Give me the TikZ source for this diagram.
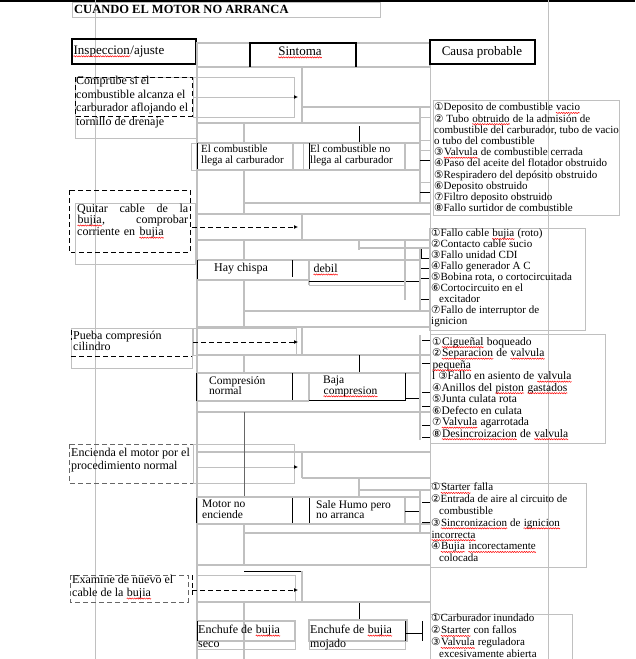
\documentclass[tikz,border=0pt]{standalone}
\usepackage{fontspec}
\setmainfont{Liberation Serif}
\newfontfamily\numfont{DejaVu Sans}
\usetikzlibrary{arrows.meta,decorations.pathmorphing}
\newcommand\err[1]{\tikz[baseline=(w.base)]{\node[inner sep=0pt,anchor=base] (w) {#1};
  \draw[red,line width=0.5pt,decorate,decoration={snake,amplitude=0.6pt,segment length=2.4pt}]
    ([yshift=-2pt]w.base west) -- ([yshift=-2pt]w.base east);}}
\newcommand\nm[1]{{\numfont\fontsize{10.5}{9}\selectfont #1}}

\begin{document}
\begin{tikzpicture}[x=1pt,y=-1pt,line cap=butt,
  linea/.style={draw=rejilla,line width=1.4pt},
  fina/.style={draw=rejilla,line width=0.8pt},
  negra/.style={draw=black,line width=0.9pt},
  paso/.style={draw=black,line width=0.9pt,dash pattern=on 5pt off 3pt},
  texto/.style={anchor=north west,inner sep=0pt,align=left,font=\fontsize{12}{13}\selectfont},
  lista/.style={anchor=north west,inner sep=0pt,align=left,font=\fontsize{11}{11.2}\selectfont},
  flecha/.style={-{Latex[length=4pt,width=4pt,color=black]}}]
  \definecolor{rejilla}{RGB}{192,192,192}

  % fondo y marco de la pagina
  \fill[white] (0,0) rectangle (635,659);
  \useasboundingbox (0,0) rectangle (635,659);
  \draw[black,line width=1.5pt] (0,1) -- (635,1);
  \draw[fina] (95,0) -- (95,659);
  \draw[fina] (430,40) -- (430,659);
  \draw[fina] (548,0) -- (548,659);
  \draw[linea] (197,43) -- (197,659);

  % titulo
  \draw[fina] (72,2) rectangle (380,17);
  \node[texto,font=\bfseries\fontsize{12.5}{13}\selectfont] (titulo) at (74,5.5) {CUANDO EL MOTOR NO ARRANCA};

  % cabeceras
  \draw[negra,line width=1.3pt] (72,39) rectangle (196,64);
  \node[texto,font=\fontsize{13}{14}\selectfont] (inspeccion) at (73,45.5) {\err{Inspeccion}/ajuste};
  \draw[linea] (197,43) rectangle (430,67);
  \draw[negra,line width=1.3pt] (250,67) -- (250,43) -- (356,43) -- (356,67);
  \node[inner sep=0pt,font=\fontsize{13}{14}\selectfont] (sintoma) at (300,52.5) {\err{Sintoma}};
  \draw[negra,line width=1.3pt] (430,40) rectangle (535,64);
  \node[inner sep=0pt,font=\fontsize{13}{14}\selectfont] (causa) at (482,52) {Causa probable};

  % paso 1: combustible
  \draw[fina] (75,77) rectangle (196,138);
  \draw[paso] (75,77) rectangle (192,116);
  \node[texto,font=\fontsize{12}{13.7}\selectfont] (comprube) at (76,76) {Comprube si el\\combustible alcanza el\\carburador aflojando el\\tornillo de drenaje};
  \draw[fina] (193,77) rectangle (294,117);
  \coordinate (s1) at (193,97);
  \coordinate (e1) at (298,97);
  \draw[fina,flecha] (s1) -- (e1);
  \draw[linea] (302,67) -- (302,123);
  \draw[linea] (302,107) -- (430,107);
  \draw[linea] (197,123) -- (420,123);
  \draw[linea] (244,123) -- (244,143);
  \draw[negra] (359,126) -- (359,143);
  \draw[linea] (197,143) -- (420,143);
  \draw[fina] (191,143) rectangle (303,170);
  \draw[negra] (197,143) -- (197,170);
  \draw[linea] (293,143) -- (293,170);
  \draw[negra] (309,143) -- (309,170);
  \draw[linea] (405,143) -- (405,170);
  \draw[linea] (197,170) -- (420,170);
  \draw[linea] (420,107) -- (420,203);
  \draw[linea] (244,170) -- (244,214);
  \draw[linea] (244,203) -- (430,203);
  \draw[linea] (197,214) -- (430,214);
  \draw[fina] (420,117) -- (430,117) (420,140) -- (430,140) (420,150) -- (430,150) (420,182) -- (430,182);
  \draw[negra] (420,160) -- (430,160) (420,192) -- (430,192);
  \node[texto,font=\fontsize{11}{10.5}\selectfont] (llega) at (201,145) {El combustible\\llega al carburador};
  \node[texto,font=\fontsize{11}{10.5}\selectfont] (nollega) at (310,145) {El combustible no\\llega al carburador};
  \draw[fina] (433,100) rectangle (619,215);
  \node[lista] (causas1) at (434,103) {\nm{①}Deposito de combustible \err{vacio}\\
    \nm{②} Tubo \err{obtruido} de la admisión de\\
    combustible del carburador, tubo de vacio\\
    o tubo del combustible\\
    \nm{③}\err{Valvula} de combustible cerrada\\
    \nm{④}Paso del aceite del flotador obstruido\\
    \nm{⑤}Respiradero del depósito obstruido\\
    \nm{⑥}Deposito obstruido\\
    \nm{⑦}Filtro deposito obstruido\\
    \nm{⑧}Fallo surtidor de combustible};

  % paso 2: chispa
  \draw[paso] (69,190) rectangle (190,252);
  \draw[fina] (75,203) rectangle (195,264);
  \node[texto,font=\fontsize{12}{11}\selectfont,text width=111pt] (quitar) at (77,204) {Quitar\hfill cable\hfill de\hfill la\\\err{bujia},\hfill comprobar\\corriente en \err{bujia}};
  \coordinate (s2) at (192,227);
  \coordinate (e2) at (298,227);
  \draw[paso,flecha] (s2) -- (e2);
  \draw[linea] (302,214) -- (302,240);
  \draw[linea] (197,240) -- (430,240);
  \draw[linea] (244,240) -- (244,260);
  \draw[linea] (359,240) -- (359,250);
  \draw[linea] (359,248) -- (430,248);
  \draw[linea] (197,260) -- (420,260);
  \draw[negra] (197,260) -- (197,280);
  \draw[negra] (292,260) -- (292,277);
  \draw[linea] (309,260) -- (309,285);
  \draw[fina] (309,281) rectangle (405,285);
  \draw[negra] (309,281) -- (420,281);
  \draw[linea] (405,240) -- (405,300);
  \draw[linea] (420,248) -- (420,311);
  \draw[linea] (197,280) -- (309,280);
  \draw[linea] (244,280) -- (244,327);
  \draw[linea] (244,311) -- (430,311);
  \draw[linea] (197,327) -- (430,327);
  \draw[negra] (421,249) -- (421,258) -- (430,258) (421,268) -- (430,268) (421,278) -- (430,278) (421,299) -- (430,299);
  \node[inner sep=0pt,font=\fontsize{12}{13}\selectfont] (chispa) at (241,269) {Hay chispa};
  \node[texto] (debil) at (313,264) {\err{debil}};
  \draw[fina] (429,228) rectangle (585,330);
  \node[lista,font=\fontsize{11}{11}\selectfont] (causas2) at (431,229) {\nm{①}Fallo cable \err{bujia} (roto)\\
    \nm{②}Contacto cable sucio\\
    \nm{③}Fallo unidad CDI\\
    \nm{④}Fallo generador A C\\
    \nm{⑤}Bobina rota, o cortocircuitada\\
    \nm{⑥}Cortocircuito en el\\
    \hspace*{8pt}excitador\\
    \nm{⑦}Fallo de interruptor de\\
    ignicion};

  % paso 3: compresion
  \draw[fina] (71,328) rectangle (192,368);
  \draw[paso] (71,330) -- (71,340);
  \draw[paso] (71,356) -- (192,356);
  \node[texto,font=\fontsize{12}{11}\selectfont] (pueba) at (73,331) {Pueba compresión\\cilindro};
  \draw[fina] (193,328) rectangle (296,355);
  \coordinate (s3) at (193,342);
  \coordinate (e3) at (298,342);
  \draw[paso,flecha] (s3) -- (e3);
  \draw[linea] (302,327) -- (302,355);
  \draw[linea] (197,355) -- (430,355);
  \draw[linea] (244,355) -- (244,373);
  \draw[negra] (359,355) -- (359,372);
  \draw[linea] (197,373) -- (420,373);
  \draw[negra] (196,373) -- (196,401);
  \draw[negra] (292,373) -- (292,401);
  \draw[linea] (309,373) -- (309,401);
  \draw[linea] (197,401) -- (309,401);
  \draw[negra] (309,400) -- (405,400) -- (405,373);
  \draw[negra] (405,398) -- (420,398);
  \draw[linea] (420,335) -- (420,440);
  \draw[linea] (197,412) -- (430,412);
  \draw[black!60,line width=1pt] (244,412) -- (244,444);
  \draw[negra] (422,340) -- (430,340) (422,363) -- (430,363) (422,392) -- (430,392) (422,406) -- (430,406) (422,425) -- (430,425) (422,437) -- (430,437);
  \node[texto,font=\fontsize{11.5}{10.5}\selectfont] (normal) at (209,376) {Compresión\\normal};
  \node[texto,font=\fontsize{11.5}{10.5}\selectfont] (baja) at (323,376) {Baja\\\err{compresion}};
  \draw[fina] (430,334) rectangle (605,443);
  \node[lista,font=\fontsize{11.5}{11.5}\selectfont] (causas3) at (432,337) {\nm{①}\err{Cigueñal} boqueado\\
    \nm{②}\err{Separacion} de \err{valvula}\\
    \err{pequeña}\\
    l \nm{③}Fallo en asiento de \err{valvula}\\
    \nm{④}Anillos del \err{piston} \err{gastados}\\
    \nm{⑤}Junta culata rota\\
    \nm{⑥}Defecto en culata\\
    \nm{⑦}\err{Valvula} agarrotada\\
    \nm{⑧}\err{Desincroizacion} de \err{valvula}};

  % paso 4: arranque
  \draw[paso,draw=black!60] (69,444) rectangle (193,483);
  \node[texto] (encienda) at (71,448) {Encienda el motor por el\\procedimiento normal};
  \draw[fina] (193,444) rectangle (294,483);
  \draw[linea] (197,452) -- (430,452);
  \coordinate (s4) at (197,467);
  \coordinate (e4) at (298,467);
  \draw[fina,flecha] (s4) -- (e4);
  \draw[linea] (302,452) -- (302,478);
  \draw[linea] (302,478) -- (430,478);
  \draw[linea] (359,478) -- (359,497);
  \draw[linea] (359,490) -- (430,490);
  \draw[black!60,line width=1pt] (244,440) -- (244,497);
  \draw[linea] (197,497) -- (420,497);
  \draw[negra] (196,498) -- (196,523);
  \draw[negra] (292,498) -- (292,523);
  \draw[negra] (309,498) -- (309,523);
  \draw[linea] (405,497) -- (405,523);
  \draw[negra] (405,511) -- (420,511);
  \draw[linea] (197,524) -- (430,524);
  \draw[linea] (244,524) -- (244,565);
  \draw[linea] (244,533) -- (430,533);
  \draw[linea] (420,490) -- (420,533);
  \draw[negra] (422,502) -- (430,502) (422,522) -- (430,522);
  \node[texto,font=\fontsize{11.5}{10.8}\selectfont] (motorno) at (202,500) {Motor no\\enciende};
  \node[texto,font=\fontsize{11.5}{10.8}\selectfont] (humo) at (316,500) {Sale Humo pero\\no arranca};
  \draw[fina] (430,483) rectangle (586,567);
  \node[lista,font=\fontsize{11}{11.8}\selectfont] (causas4) at (431,483) {\nm{①}\err{Starter} falla\\
    \nm{②}Entrada de aire al circuito de\\
    \hspace*{8pt}combustible\\
    \nm{③}\err{Sincronizacion} de \err{ignicion}\\
    \err{incorrecta}\\
    \nm{④}\err{Bujia} \err{incorectamente}\\
    \hspace*{8pt}colocada};

  % paso 5: cable de la bujia
  \draw[linea] (197,565) -- (430,565);
  \draw[negra] (244,571) -- (302,571);
  \draw[linea] (302,571) -- (302,602);
  \draw[paso,draw=black!60] (70,575) rectangle (188,602);
  \draw[paso] (192,575) -- (192,595);
  \node[texto] (examine) at (72,575) {Examine de nuevo el\\cable de la \err{bujia}};
  \draw[fina] (197,575) rectangle (295,602);
  \coordinate (s5) at (192,590);
  \coordinate (e5) at (298,590);
  \draw[paso,flecha] (s5) -- (e5);
  \draw[linea] (197,602) -- (430,602);
  \draw[negra] (359,603) -- (359,619);
  \draw[linea] (244,602) -- (244,659);
  \draw[linea] (197,621) rectangle (295,641);
  \draw[negra] (197,621) -- (197,641);
  \draw[fina] (197,641) rectangle (295,649);
  \draw[linea] (309,620) rectangle (407,641);
  \draw[negra] (309,641) -- (405,641) -- (405,621);
  \draw[fina] (309,641) rectangle (405,649);
  \draw[negra] (405,633) -- (422,633) (422,621) -- (422,641);
  \node[texto,font=\fontsize{12}{14}\selectfont] (seco) at (198,625) {Enchufe de \err{bujia}\\seco};
  \node[texto,font=\fontsize{12}{14}\selectfont] (mojado) at (310,625) {Enchufe de \err{bujia}\\mojado};
  \draw[fina] (430,614) rectangle (572,670);
  \node[lista,font=\fontsize{11}{12}\selectfont] (causas5) at (431,614) {\nm{①}Carburador inundado\\
    \nm{②}\err{Starter} con fallos\\
    \nm{③}\err{Valvula} reguladora\\
    \hspace*{8pt}excesivamente abierta};
\end{tikzpicture}
\end{document}
